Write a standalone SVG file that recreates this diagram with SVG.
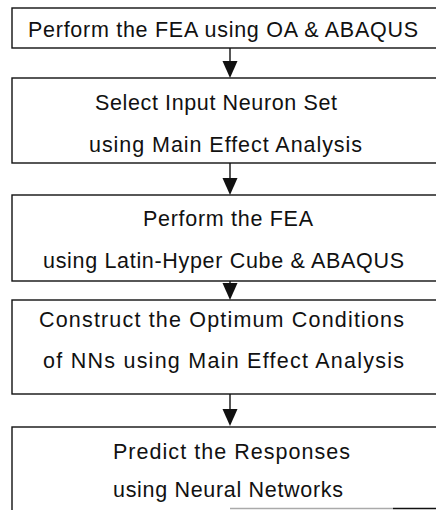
<svg xmlns="http://www.w3.org/2000/svg" width="436" height="510" viewBox="0 0 436 510">
  <defs>
    <style>
      .box { fill: #ffffff; stroke: #111111; stroke-width: 1.4; }
      .lbl { font-family: "Liberation Sans", Arial, sans-serif; font-size: 21.5px; fill: #111111; text-anchor: middle; }
      .flow { stroke: #111111; stroke-width: 1.4; fill: none; }
      .head { fill: #111111; }
    </style>
  </defs>
  <rect width="436" height="510" fill="#ffffff"/>

  <g id="connectors">
    <line class="flow" x1="230" y1="48" x2="230" y2="62"/>
    <polygon class="head" points="222.5,61 237.5,61 230,78"/>
    <line class="flow" x1="230" y1="163" x2="230" y2="179"/>
    <polygon class="head" points="222.5,178 237.5,178 230,195"/>
    <line class="flow" x1="230" y1="281" x2="230" y2="284"/>
    <polygon class="head" points="222.5,283 237.5,283 230,300"/>
    <line class="flow" x1="230" y1="394" x2="230" y2="410"/>
    <polygon class="head" points="222.5,409 237.5,409 230,426"/>
  </g>

  <g id="step1">
    <rect class="box" x="12" y="8" width="430" height="40"/>
    <text class="lbl" x="223" y="37" textLength="390" lengthAdjust="spacing">Perform the FEA using OA &amp; ABAQUS</text>
  </g>

  <g id="step2">
    <rect class="box" x="12" y="78" width="430" height="85"/>
    <text class="lbl" x="216" y="110" textLength="242" lengthAdjust="spacing">Select Input Neuron Set</text>
    <text class="lbl" x="225.5" y="152" textLength="273" lengthAdjust="spacing">using Main Effect Analysis</text>
  </g>

  <g id="step3">
    <rect class="box" x="12" y="195" width="430" height="86"/>
    <text class="lbl" x="228" y="226" textLength="170" lengthAdjust="spacing">Perform the FEA</text>
    <text class="lbl" x="223.5" y="268" textLength="361" lengthAdjust="spacing">using Latin-Hyper Cube &amp; ABAQUS</text>
  </g>

  <g id="step4">
    <rect class="box" x="12" y="300" width="430" height="94"/>
    <text class="lbl" x="221.5" y="327" textLength="365" lengthAdjust="spacing">Construct the Optimum Conditions</text>
    <text class="lbl" x="223.5" y="368" textLength="361" lengthAdjust="spacing">of NNs using Main Effect Analysis</text>
  </g>

  <g id="step5">
    <rect class="box" x="12" y="427" width="430" height="100"/>
    <text class="lbl" x="231.5" y="459" textLength="237" lengthAdjust="spacing">Predict the Responses</text>
    <text class="lbl" x="228" y="497" textLength="230" lengthAdjust="spacing">using Neural Networks</text>
    <line x1="230" y1="508.5" x2="393" y2="508.5" stroke="#aaaaaa" stroke-width="1.4"/>
    <line x1="393" y1="508.5" x2="436" y2="508.5" stroke="#111111" stroke-width="1.4"/>
  </g>
</svg>
